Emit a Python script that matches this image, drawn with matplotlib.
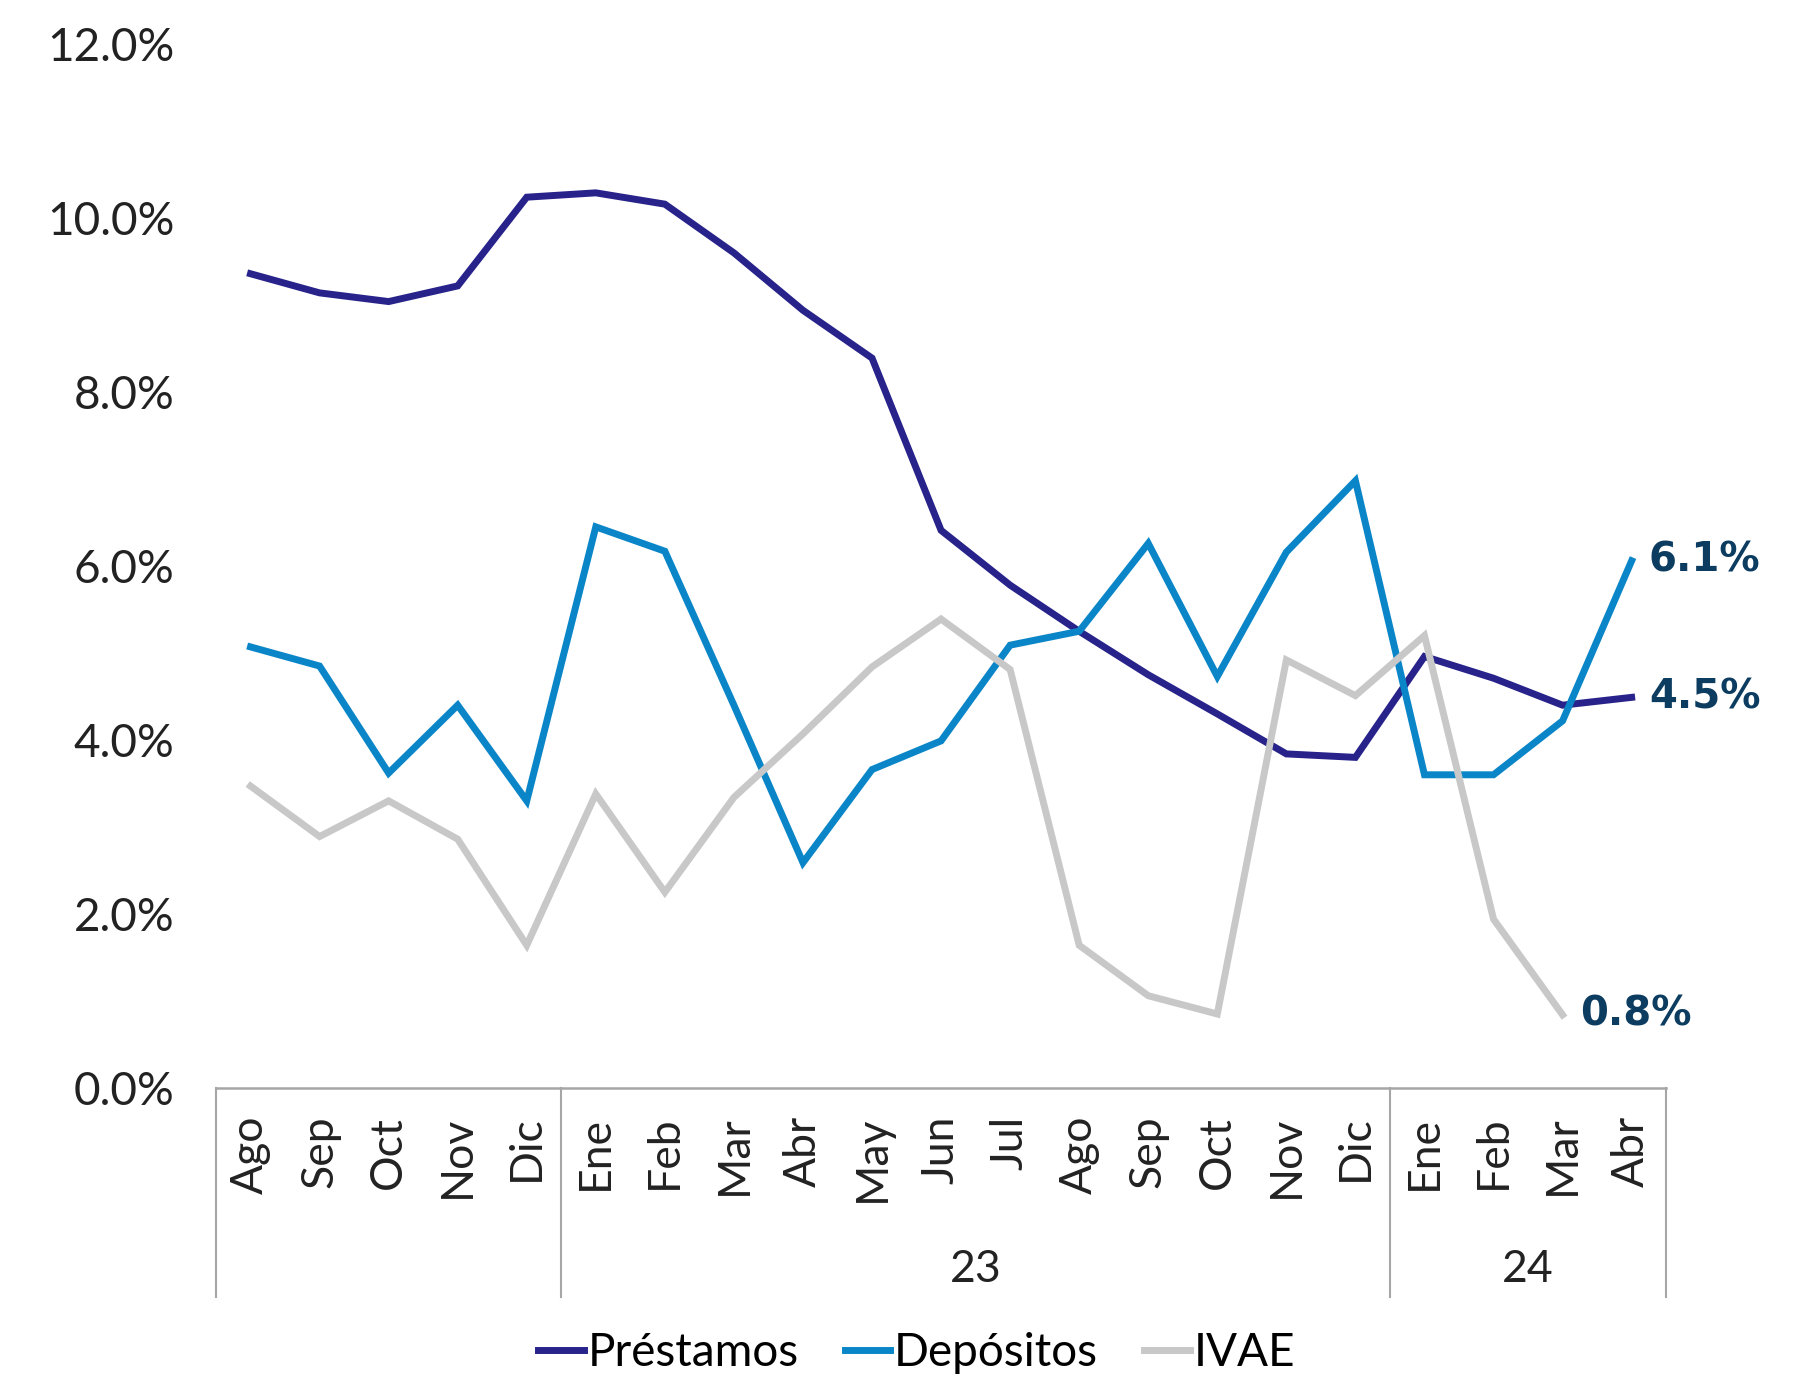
import numpy as np
import matplotlib
matplotlib.use("Agg")
import matplotlib.pyplot as plt
import matplotlib.transforms as mtransforms

# months (Ago-22 .. Abr-24)
months = ["Ago", "Sep", "Oct", "Nov", "Dic",
          "Ene", "Feb", "Mar", "Abr", "May", "Jun", "Jul", "Ago", "Sep", "Oct", "Nov", "Dic",
          "Ene", "Feb", "Mar", "Abr"]
year_labels = ["", "23", "24"]
year_bounds = [-0.5, 4.5, 16.5, 20.5]

# % growth
prestamos = [9.36, 9.14, 9.04, 9.22, 10.24, 10.29, 10.16, 9.60, 8.94, 8.39, 6.41,
             5.78, 5.25, 4.75, 4.30, 3.84, 3.80, 4.96, 4.71, 4.40, 4.49]
depositos = [5.07, 4.85, 3.62, 4.40, 3.30, 6.45, 6.17, 4.40, 2.59, 3.66, 3.99,
             5.09, 5.25, 6.26, 4.73, 6.16, 6.98, 3.60, 3.60, 4.22, 6.06]
ivae = [3.47, 2.89, 3.30, 2.86, 1.64, 3.38, 2.25, 3.34, 4.07, 4.84, 5.39,
        4.81, 1.64, 1.06, 0.85, 4.92, 4.51, 5.20, 1.94, 0.84, np.nan]

c_prest = "#27238a"
c_dep = "#0a86c8"
c_ivae = "#c8c8c8"
c_lab = "#0c3c60"
c_axis = "#a6a6a6"

plt.rcParams['font.family'] = ['Lato', 'DejaVu Sans']

fig = plt.figure(figsize=(18.15, 13.78), dpi=100)
ax = fig.add_axes([0.119, 0.2105, 0.799, 0.7575])

x = np.arange(len(months))
ax.plot(x, prestamos, color=c_prest, lw=5, label="Préstamos", solid_joinstyle='miter')
ax.plot(x, depositos, color=c_dep, lw=5, label="Depósitos", solid_joinstyle='miter')
ax.plot(x, ivae, color=c_ivae, lw=5, label="IVAE", solid_joinstyle='miter')

ax.set_xlim(-0.5, len(months) - 0.5)
ax.set_ylim(0, 12)
ax.set_yticks(np.arange(0, 12.1, 2))
ax.set_yticklabels([f"{v:.1f}%" for v in np.arange(0, 12.1, 2)], fontsize=33, color="#222222")
ax.tick_params(axis='y', length=0, pad=30)

ax.set_xticks(x)
ax.set_xticklabels(months, rotation=90, fontsize=32, color="#222222", va='top')
ax.tick_params(axis='x', length=0, pad=20)

for s in ["top", "right", "left"]:
    ax.spines[s].set_visible(False)
ax.spines["bottom"].set_color(c_axis)
ax.spines["bottom"].set_linewidth(1.8)

# group separators and year labels
trans = mtransforms.blended_transform_factory(ax.transData, ax.transAxes)
for b in year_bounds:
    ax.plot([b, b], [0, -0.2], color=c_axis, lw=1.5, transform=trans, clip_on=False)
for i, lab in enumerate(year_labels):
    mid = (year_bounds[i] + year_bounds[i + 1]) / 2
    ax.text(mid, -0.174, lab, transform=trans, ha='center', va='center',
            fontsize=32, color="#222222")

# end labels
end_kw = dict(fontsize=29, fontweight='heavy', family='DejaVu Sans', color=c_lab,
              va='center', ha='left')
ax.text(20 + 0.25, depositos[20], f"{depositos[20]:.1f}%", **end_kw)
ax.text(20 + 0.25, prestamos[20], f"{prestamos[20]:.1f}%", **end_kw)
ax.text(19 + 0.25, ivae[19], f"{ivae[19]:.1f}%", **end_kw)

fig.legend(loc='center', bbox_to_anchor=(0.505, 0.018), ncol=3, frameon=False,
           fontsize=33, handlelength=1.0, handletextpad=0.08, columnspacing=1.0,
           borderpad=0)

fig.savefig("out.png", dpi=100)
